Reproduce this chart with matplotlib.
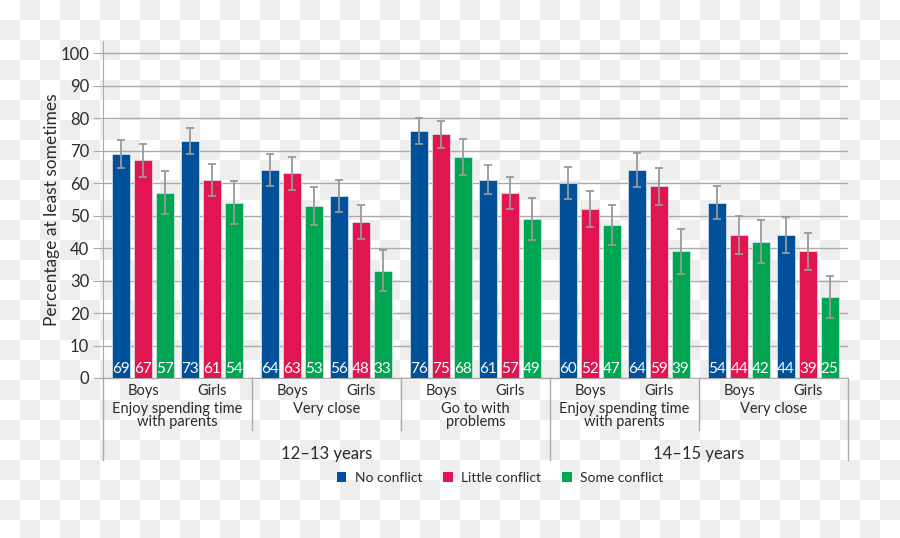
import numpy as np
import matplotlib.pyplot as plt
from matplotlib.patches import Patch
from matplotlib.transforms import blended_transform_factory

plt.rcParams['font.family'] = ['Lato', 'DejaVu Sans']

categories = ["Enjoy spending time\nwith parents", "Very close", "Go to with\nproblems",
              "Enjoy spending time\nwith parents", "Very close"]
genders = ["Boys", "Girls"]
ages = ["12\u201313 years", "14\u201315 years"]
series = ["No conflict", "Little conflict", "Some conflict"]

# order: category 1 boys, category 1 girls, category 2 boys, ...
no_conflict = [69, 73, 64, 56, 76, 61, 60, 64, 54, 44]
little_conflict = [67, 61, 63, 48, 75, 57, 52, 59, 44, 39]
some_conflict = [57, 54, 53, 33, 68, 49, 47, 39, 42, 25]
no_err = [4.3, 4.0, 4.9, 4.8, 4.0, 4.5, 4.8, 5.1, 5.1, 5.6]
little_err = [5.0, 4.9, 5.0, 5.2, 4.2, 5.0, 5.5, 5.7, 5.9, 5.7]
some_err = [6.6, 6.6, 5.9, 6.3, 5.6, 6.4, 6.2, 6.9, 6.6, 6.5]

colors = ["#00519a", "#e1154f", "#00a651"]
grid_col = "#aaaaaa"
text_col = "#2b2b2b"

fig = plt.figure(figsize=(9, 5.38), dpi=100)

# checkered background as in the reference
h, w = 538, 900
yy, xx = np.mgrid[0:h, 0:w]
board = np.where(((yy // 20) + (xx // 20)) % 2 == 0, 1.0, 0.937)
fig.figimage(np.dstack([board] * 3), xo=0, yo=0, zorder=-10)
fig.patch.set_alpha(0)

ax = fig.add_axes([103 / 900, 1 - 378 / 538, 745 / 900, 337 / 538])
ax.patch.set_alpha(0)

gender_off = [0.27, 0.73]
bar_off = [-0.146, 0.0, 0.146]
width = 0.121

x_centers = np.array([c + gender_off[g] for c in range(len(categories)) for g in range(2)])
values = [no_conflict, little_conflict, some_conflict]
errs = [no_err, little_err, some_err]

for s in range(3):
    xs = x_centers + bar_off[s]
    ax.bar(xs, values[s], width, color=colors[s], edgecolor="#dde6f0", linewidth=0.5, zorder=3)
    ax.errorbar(xs, values[s], yerr=errs[s], fmt="none", ecolor="#999999",
                elinewidth=1.3, capsize=3, capthick=1.3, zorder=4)
    for x, v in zip(xs, values[s]):
        ax.text(x, 0.6, str(v), ha="center", va="bottom", color="white", fontsize=11, zorder=5)

ax.set_xlim(0, 5)
ax.set_ylim(0, 103.7)
ax.set_yticks(np.arange(0, 101, 10))
ax.set_xticks([])
ax.yaxis.grid(True, color=grid_col, linewidth=1, zorder=0)
ax.tick_params(axis="y", length=7, color=grid_col, labelsize=12, labelcolor=text_col, pad=3)
for sp in ["top", "right"]:
    ax.spines[sp].set_visible(False)
ax.spines["left"].set_color(grid_col)
ax.spines["bottom"].set_color(grid_col)
ax.set_ylabel("Percentage at least sometimes", fontsize=12.5, color=text_col, labelpad=0)

tr = blended_transform_factory(ax.transData, ax.transAxes)

def ay(ypix):
    return (378 - ypix) / 337

for c in range(len(categories)):
    for g in range(2):
        ax.text(c + gender_off[g], ay(391), genders[g], transform=tr, ha="center", va="center",
                fontsize=10.5, color=text_col)
    ax.text(c + 0.5, ay(402), categories[c], transform=tr, ha="center", va="top",
            fontsize=10.5, color=text_col, linespacing=0.95)

for a, age in enumerate(ages):
    ax.text(1.5 if a == 0 else 4.0, ay(454), age, transform=tr, ha="center", va="center",
            fontsize=12, color=text_col)

for xd in range(6):
    bottom = ay(460) if xd in (0, 3, 5) else ay(430)
    ax.plot([xd, xd], [0, bottom], transform=tr, color=grid_col, linewidth=1, clip_on=False)

handles = [Patch(facecolor=c, edgecolor="none") for c in colors]
fig.legend(handles, series, loc="center", bbox_to_anchor=(500 / 900, 1 - 478 / 538), ncol=3,
           frameon=False, fontsize=10, handlelength=0.7, handleheight=0.7, handletextpad=0.6,
           columnspacing=1.5, labelcolor=text_col)

fig.savefig("out.png", dpi=100)
